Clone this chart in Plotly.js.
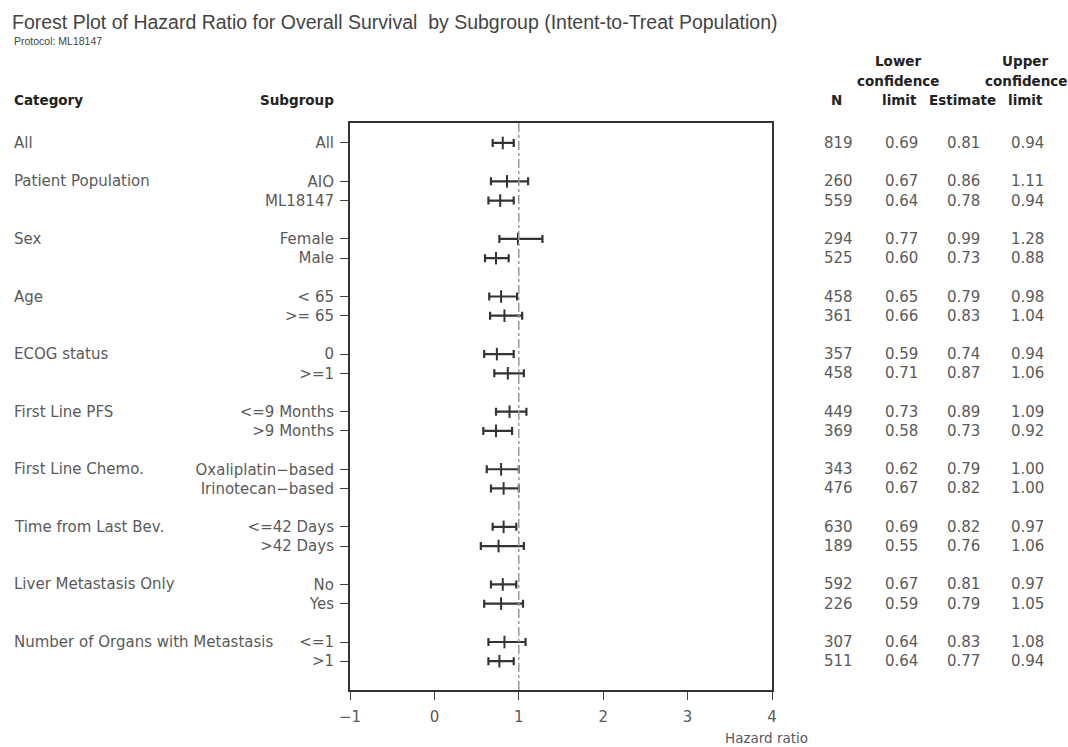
<!DOCTYPE html>
<html>
<head>
<meta charset="utf-8">
<script src="https://cdn.plot.ly/plotly-3.0.1.min.js"></script>
<style>html,body{margin:0;padding:0;background:#fff;}#chart{width:1068px;height:747px;}</style>
</head>
<body>
<div id="chart"></div>
<script>
// ---- data ----
const categories = ["All","Patient Population","Patient Population","Sex","Sex","Age","Age",
  "ECOG status","ECOG status","First Line PFS","First Line PFS","First Line Chemo.","First Line Chemo.",
  "Time from Last Bev.","Time from Last Bev.","Liver Metastasis Only","Liver Metastasis Only",
  "Number of Organs with Metastasis","Number of Organs with Metastasis"];
const subgroups = ["All","AIO","ML18147","Female","Male","< 65",">= 65","0",">=1",
  "<=9 Months",">9 Months","Oxaliplatin\u2212based","Irinotecan\u2212based","<=42 Days",">42 Days",
  "No","Yes","<=1",">1"];
const nValues  = [819,260,559,294,525,458,361,357,458,449,369,343,476,630,189,592,226,307,511];
const lowerCL  = [0.69,0.67,0.64,0.77,0.60,0.65,0.66,0.59,0.71,0.73,0.58,0.62,0.67,0.69,0.55,0.67,0.59,0.64,0.64];
const estimate = [0.81,0.86,0.78,0.99,0.73,0.79,0.83,0.74,0.87,0.89,0.73,0.79,0.82,0.82,0.76,0.81,0.79,0.83,0.77];
const upperCL  = [0.94,1.11,0.94,1.28,0.88,0.98,1.04,0.94,1.06,1.09,0.92,1.00,1.00,0.97,1.06,0.97,1.05,1.08,0.94];
const xTicks = [-1,0,1,2,3,4];

// ---- layout helpers ----
const pos = [];
let slot = 0;
for (let i = 0; i < categories.length; i++) {
  if (i > 0) slot += (categories[i] !== categories[i-1]) ? 2 : 1;
  pos.push(slot);
}
const fmt = v => v.toFixed(2);
const TXT = '#5a5a5a';
const HDR = '#222';
const FONT = 'DejaVu Sans';
const plotL = 350, plotW = 422;
const px = p => (p - plotL) / plotW;

const trace = {
  type: 'scatter', mode: 'markers',
  x: estimate, y: pos,
  marker: {symbol: 'line-ns-open', size: 9, color: '#333', line: {width: 2, color: '#333'}},
  error_x: {type: 'data', symmetric: false,
    array: upperCL.map((u, i) => u - estimate[i]),
    arrayminus: lowerCL.map((l, i) => estimate[i] - l),
    color: '#333', thickness: 2.2, width: 4},
  hoverinfo: 'skip', showlegend: false
};

const annotations = [];
function ann(text, xPix, yPix, anchor, opts) {
  annotations.push(Object.assign({
    text: text, xref: 'paper', yref: 'paper', x: px(xPix), y: 1 - (yPix - 123) / 567,
    xanchor: anchor, yanchor: 'middle', showarrow: false,
    font: {family: FONT, size: 15, color: TXT}
  }, opts || {}));
}
// headers
const hf = {font: {family: FONT, size: 13.5, color: HDR}};
ann('<b>Category</b>', 12, 100, 'left', hf);
ann('<b>Subgroup</b>', 258, 100, 'left', hf);
ann('<b>N</b>', 836, 100, 'center', hf);
ann('<b>Lower</b>', 898, 61, 'center', hf);
ann('<b>confidence</b>', 898, 81, 'center', hf);
ann('<b>limit</b>', 899, 100, 'center', hf);
ann('<b>Estimate</b>', 962, 100, 'center', hf);
ann('<b>Upper</b>', 1025, 61, 'center', hf);
ann('<b>confidence</b>', 1026, 81, 'center', hf);
ann('<b>limit</b>', 1025, 100, 'center', hf);
// rows
for (let i = 0; i < categories.length; i++) {
  const yPix = 143 + pos[i] * (547 / 28.5);
  if (i === 0 || categories[i] !== categories[i-1]) ann(categories[i], 12, yPix, 'left');
  ann(String(nValues[i]), 855, yPix, 'right');
  ann(fmt(lowerCL[i]), 901, yPix, 'center');
  ann(fmt(estimate[i]), 963, yPix, 'center');
  ann(fmt(upperCL[i]), 1027, yPix, 'center');
}
// protocol + axis label
annotations.push({text: 'Protocol: ML18147', xref: 'paper', yref: 'paper', x: px(12), y: 1 + (123 - 41) / 567,
  xanchor: 'left', yanchor: 'middle', showarrow: false, font: {family: 'Liberation Sans', size: 10.5, color: '#444'}});
annotations.push({text: 'Hazard ratio', xref: 'paper', yref: 'paper', x: px(766), y: 1 - (738 - 123) / 567,
  xanchor: 'center', yanchor: 'middle', showarrow: false, font: {family: FONT, size: 13.5, color: TXT}});

const layout = {
  width: 1068, height: 747,
  margin: {l: plotL, r: 1068 - plotL - plotW, t: 123, b: 57},
  paper_bgcolor: '#fff', plot_bgcolor: '#fff',
  title: {text: 'Forest Plot of Hazard Ratio for Overall Survival  by Subgroup (Intent-to-Treat Population)',
    xref: 'container', yref: 'container', x: 12 / 1068, xanchor: 'left', y: 1 - 22 / 747, yanchor: 'middle',
    font: {family: 'Liberation Sans', size: 19.5, color: '#444'}},
  xaxis: {range: [-1, 4], tickvals: xTicks, ticktext: xTicks.map(v => v < 0 ? '\u2212' + Math.abs(v) : String(v)),
    showgrid: false, zeroline: false, showline: true, mirror: true, linecolor: '#333', linewidth: 2,
    ticks: 'outside', ticklen: 8, tickwidth: 1, tickcolor: '#444', ticklabelstandoff: 4,
    tickfont: {family: FONT, size: 15, color: TXT}, fixedrange: true},
  yaxis: {range: [28.5, -1.04], tickvals: pos, ticktext: subgroups,
    showgrid: false, zeroline: false, showline: true, mirror: true, linecolor: '#333', linewidth: 2,
    ticks: 'outside', ticklen: 8, tickwidth: 1, tickcolor: '#444', ticklabelstandoff: 3,
    tickfont: {family: FONT, size: 15, color: TXT}, fixedrange: true},
  shapes: [{type: 'line', xref: 'x', yref: 'paper', x0: 1, x1: 1, y0: 0, y1: 1,
    line: {color: '#999', width: 1.5, dash: 'dashdot'}}],
  annotations: annotations
};

Plotly.newPlot('chart', [trace], layout, {staticPlot: true, displayModeBar: false});
</script>
</body>
</html>
